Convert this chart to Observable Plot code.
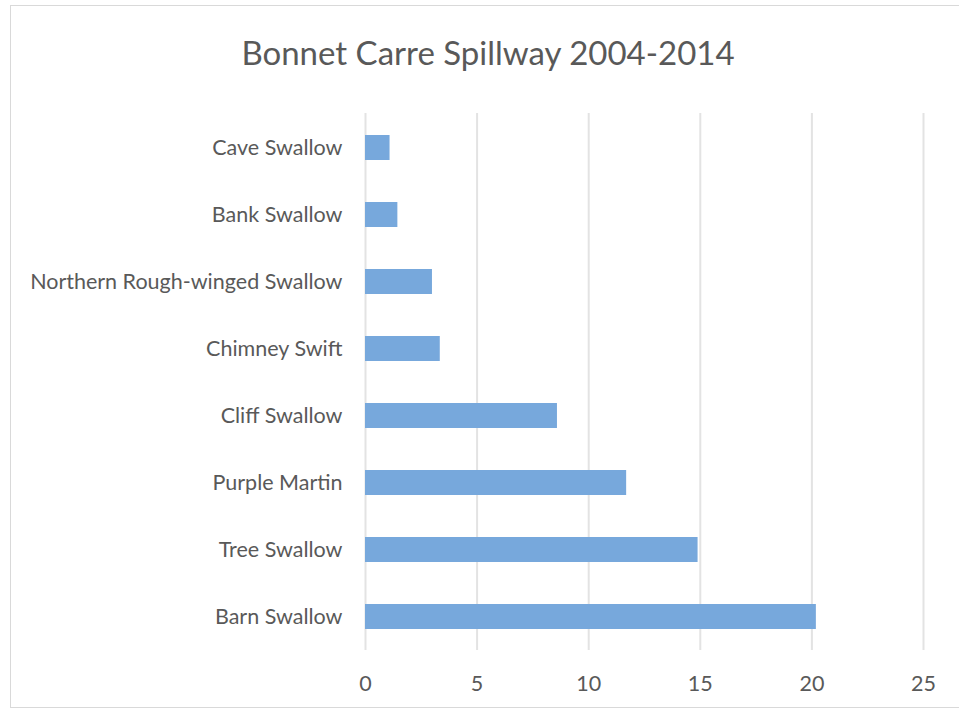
<!DOCTYPE html>
<html>
<head>
<meta charset="utf-8">
<script src="https://cdn.jsdelivr.net/npm/d3@7"></script>
<script src="https://cdn.jsdelivr.net/npm/@observablehq/plot@0.6"></script>
<style>
  html, body { margin: 0; padding: 0; background: #fff; }
  body { width: 959px; height: 711px; position: relative; overflow: hidden; font-family: Lato, "Open Sans", sans-serif; }
  #frame { position: absolute; left: 10px; top: 5px; width: 1000px; height: 703px; border: 1px solid #d9d9d9; box-sizing: border-box; }
  #title { position: absolute; left: 0; width: 976px; top: 36px; line-height: 1; text-align: center; font-size: 33px; color: #595959; font-family: Lato, sans-serif; }
  #chart { position: absolute; left: 0; top: 100px; }
</style>
</head>
<body>
<div id="frame"></div>
<div id="title">Bonnet Carre Spillway 2004-2014</div>
<div id="chart"></div>
<script>
const species = [
  "Cave Swallow",
  "Bank Swallow",
  "Northern Rough-winged Swallow",
  "Chimney Swift",
  "Cliff Swallow",
  "Purple Martin",
  "Tree Swallow",
  "Barn Swallow"
];
const values = [1.1, 1.45, 3.0, 3.35, 8.6, 11.7, 14.9, 20.2];
const xTicks = [0, 5, 10, 15, 20, 25];

const data = species.map((s, i) => ({species: s, value: values[i]}));

const chart = Plot.plot({
  width: 959,
  height: 611,
  marginTop: 13,
  marginBottom: 61,
  marginLeft: 365,
  marginRight: 36,
  style: {fontFamily: "Lato, sans-serif", fontSize: "21.5px", color: "#595959", background: "transparent"},
  x: {domain: [0, 25], ticks: xTicks, tickSize: 0, tickPadding: 25, label: null},
  y: {domain: species, paddingInner: 0.63, paddingOuter: 0.315, tickSize: 0, tickPadding: 23, label: null},
  marks: [
    Plot.ruleX(xTicks, {stroke: "#e3e3e3", strokeWidth: 2}),
    Plot.barX(data, {x: "value", y: "species", fill: "#77a8dc"})
  ]
});
document.getElementById("chart").appendChild(chart);
</script>
</body>
</html>
